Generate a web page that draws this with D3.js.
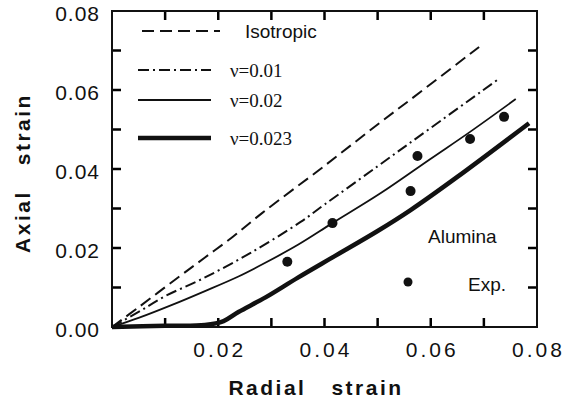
<!DOCTYPE html>
<html>
<head>
<meta charset="utf-8">
<script src="https://cdn.jsdelivr.net/npm/d3@7"></script>
<style>
  body { margin: 0; background: #fff; }
  svg { display: block; }
  .tick-label { font-family: "Liberation Sans", Arial, sans-serif; font-size: 21px; fill: #111; }
  .axis-title { font-family: "Liberation Sans", Arial, sans-serif; font-size: 21px; font-weight: bold; letter-spacing: 2.5px; fill: #111; white-space: pre; }
  .legend-sans { font-family: "Liberation Sans", Arial, sans-serif; font-size: 19px; fill: #111; }
  .legend-serif { font-family: "Liberation Serif", "Times New Roman", serif; font-size: 19px; fill: #111; }
</style>
</head>
<body>
<div id="chart"></div>
<script>
// Curves: [radial strain, axial strain]
const isotropic = [[0, 0], [0.005, 0.005], [0.0123, 0.0124], [0.0175, 0.0176], [0.0227, 0.0228],
  [0.0283, 0.0289], [0.04, 0.0408], [0.0506, 0.0519], [0.0562, 0.0576], [0.0691, 0.0709]];
const nu001 = [[0, 0], [0.005, 0.0038], [0.01, 0.0078], [0.017, 0.0122], [0.026, 0.0187],
  [0.0355, 0.0266], [0.04, 0.031], [0.05, 0.0407], [0.06, 0.0504], [0.073, 0.063]];
const nu002 = [[0, 0], [0.005, 0.0023], [0.0113, 0.0056], [0.0175, 0.0091], [0.0238, 0.0128],
  [0.0285, 0.016], [0.035, 0.0208], [0.0415, 0.0263], [0.0506, 0.0339], [0.06, 0.0426],
  [0.0674, 0.0494], [0.076, 0.0577]];
const nu0023 = [[0, 0], [0.01, 0.0003], [0.0175, 0.0005], [0.021, 0.0015], [0.0238, 0.0038],
  [0.0289, 0.0075], [0.035, 0.0125], [0.042, 0.018], [0.05, 0.0243], [0.0562, 0.0296],
  [0.065, 0.038], [0.0785, 0.0516]];
// Experimental points (Alumina)
const expPoints = [[0.033, 0.0165], [0.0415, 0.0263], [0.0562, 0.0344], [0.0575, 0.0433],
  [0.0674, 0.0476], [0.0738, 0.0532]];

const tickValues = [0.01, 0.02, 0.03, 0.04, 0.05, 0.06, 0.07];
const xLabelled = [0.02, 0.04, 0.06, 0.08];
const yLabelled = [0, 0.02, 0.04, 0.06, 0.08];

const legendItems = [
  { label: "Isotropic", data: isotropic, dash: "12,6", width: 2, sans: true },
  { label: "\u03bd=0.01", data: nu001, dash: "11,4,2,4", width: 2 },
  { label: "\u03bd=0.02", data: nu002, dash: null, width: 1.8 },
  { label: "\u03bd=0.023", data: nu0023, dash: null, width: 4.5 },
];

const width = 564, height = 403;
const margin = { top: 11, right: 27, bottom: 76, left: 112 };
const tickLen = 9;

const x = d3.scaleLinear().domain([0, 0.08]).range([margin.left, width - margin.right]);
const y = d3.scaleLinear().domain([0, 0.08]).range([height - margin.bottom, margin.top]);

const svg = d3.create("svg").attr("width", width).attr("height", height);

const fmt = d3.format(".2f");

// Inward ticks on all four sides, drawn as one path
const tickPath = d3.path();
tickValues.forEach((d) => {
  tickPath.moveTo(x(d), y(0) + 1); tickPath.lineTo(x(d), y(0) - tickLen);
  tickPath.moveTo(x(d), y(0.08) - 1); tickPath.lineTo(x(d), y(0.08) + tickLen);
  tickPath.moveTo(x(0) - 1, y(d)); tickPath.lineTo(x(0) + tickLen, y(d));
  tickPath.moveTo(x(0.08) + 1, y(d)); tickPath.lineTo(x(0.08) - tickLen, y(d));
});
svg.append("path")
  .attr("d", tickPath.toString())
  .attr("fill", "none")
  .attr("stroke", "#000")
  .attr("stroke-width", 2.5)
  .attr("stroke-linecap", "butt");

// Frame
svg.append("rect")
  .attr("x", x(0)).attr("y", y(0.08))
  .attr("width", x(0.08) - x(0)).attr("height", y(0) - y(0.08))
  .attr("fill", "none").attr("stroke", "#111").attr("stroke-width", 2);

// Tick labels
svg.append("g").selectAll("text").data(xLabelled).join("text")
  .attr("class", "tick-label")
  .attr("x", (d) => x(d) + 1.5)
  .attr("y", y(0) + 30)
  .attr("text-anchor", "middle")
  .style("letter-spacing", "3px")
  .text(fmt);

svg.append("g").selectAll("text").data(yLabelled).join("text")
  .attr("class", "tick-label")
  .attr("x", x(0) - 12)
  .attr("y", (d) => y(d) + 10)
  .attr("text-anchor", "end")
  .style("letter-spacing", "1px")
  .text(fmt);

// Curves
const line = d3.line().x((d) => x(d[0])).y((d) => y(d[1])).curve(d3.curveCatmullRom.alpha(0.5));

svg.append("g")
  .attr("fill", "none")
  .attr("stroke", "#111")
  .attr("stroke-linejoin", "round")
  .selectAll("path")
  .data(legendItems)
  .join("path")
  .attr("d", (d) => line(d.data))
  .attr("stroke-width", (d) => d.width)
  .attr("stroke-dasharray", (d) => d.dash);

// Experimental dots
svg.append("g")
  .selectAll("circle")
  .data(expPoints)
  .join("circle")
  .attr("cx", (d) => x(d[0]))
  .attr("cy", (d) => y(d[1]))
  .attr("r", 5)
  .attr("fill", "#111");

// Legend (upper left)
const legendRows = [31, 70, 100, 138];
const legend = svg.append("g");
legendItems.forEach((item, i) => {
  const yy = legendRows[i];
  legend.append("line")
    .attr("x1", i === 0 ? 142 : 138).attr("x2", i === 0 ? 220 : 211)
    .attr("y1", yy).attr("y2", yy)
    .attr("stroke", "#111")
    .attr("stroke-width", item.width)
    .attr("stroke-dasharray", item.dash);
  legend.append("text")
    .attr("class", item.sans ? "legend-sans" : "legend-serif")
    .attr("x", item.sans ? 245 : 230)
    .attr("y", yy + 7)
    .text(item.label);
});

// Alumina / Exp. legend
svg.append("text").attr("class", "legend-sans").attr("x", 428).attr("y", 243).text("Alumina");
svg.append("circle").attr("cx", 408).attr("cy", 282).attr("r", 4.5).attr("fill", "#111");
svg.append("text").attr("class", "legend-sans").attr("x", 468).attr("y", 291).text("Exp.");

// Axis titles
svg.append("text")
  .attr("class", "axis-title")
  .attr("x", 316).attr("y", 395)
  .attr("text-anchor", "middle")
  .text("Radial   strain");

svg.append("text")
  .attr("class", "axis-title")
  .attr("transform", "translate(30,173) rotate(-90)")
  .attr("text-anchor", "middle")
  .text("Axial   strain");

document.getElementById("chart").appendChild(svg.node());
</script>
</body>
</html>
